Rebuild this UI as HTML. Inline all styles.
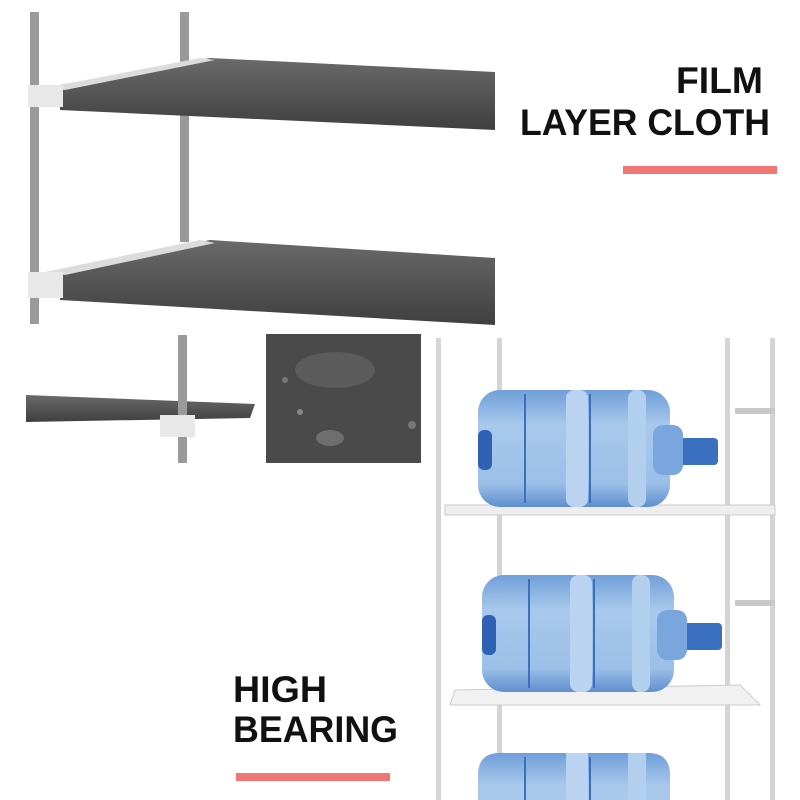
<!DOCTYPE html><html><head><style>html,body{margin:0;background:#fff;width:800px;height:800px;overflow:hidden}svg{display:block}text{font-family:"Liberation Sans",sans-serif;font-weight:bold;fill:#111}</style></head><body>
<svg width="800" height="800" viewBox="0 0 800 800">
<defs>
<linearGradient id="sh" x1="0" y1="0" x2="0" y2="1"><stop offset="0" stop-color="#6a6a6a"/><stop offset="1" stop-color="#3f3f3f"/></linearGradient>
<linearGradient id="bt" x1="0" y1="0" x2="0" y2="1"><stop offset="0" stop-color="#6f9fd8"/><stop offset=".3" stop-color="#a9c8ec"/><stop offset=".8" stop-color="#9bbfe8"/><stop offset="1" stop-color="#5f8fcf"/></linearGradient>
<linearGradient id="bt3" x1="0" y1="0" x2="0" y2="1"><stop offset="0" stop-color="#6f9fd8"/><stop offset=".7" stop-color="#a9c8ec"/><stop offset="1" stop-color="#a9c8ec"/></linearGradient>
<g id="bot">
<rect x="0" y="0" width="192" height="117" rx="22" fill="url(#bt)"/>
<rect x="192" y="48" width="48" height="27" rx="4" fill="#3b6fc0"/>
<rect x="175" y="35" width="30" height="50" rx="10" fill="#7aa6de"/>
<rect x="0" y="40" width="14" height="40" rx="6" fill="#2f62b5"/>
<line x1="47" y1="4" x2="47" y2="113" stroke="#3a70c0" stroke-width="2"/>
<rect x="88" y="0" width="22" height="117" rx="8" fill="#b9d3f0"/>
<line x1="112" y1="4" x2="112" y2="113" stroke="#3a70c0" stroke-width="2"/>
<rect x="150" y="0" width="18" height="117" rx="8" fill="#b3cfee"/>
</g>
</defs>
<rect x="30" y="12" width="9" height="312" fill="#9a9a9a"/>
<rect x="180" y="12" width="9" height="230" fill="#9a9a9a"/>
<polygon points="60,85 210,58 495,72 495,130 60,110" fill="url(#sh)"/>
<polygon points="45,88 200,58 215,60 65,90" fill="#dcdcdc"/>
<rect x="28" y="85" width="35" height="22" fill="#e8e8e8"/>
<polygon points="60,270 210,240 495,258 495,325 60,300" fill="url(#sh)"/>
<polygon points="45,272 200,240 215,243 65,275" fill="#dcdcdc"/>
<rect x="28" y="272" width="35" height="26" fill="#e8e8e8"/>
<polygon points="26,395 255,404 250,418 26,422" fill="url(#sh)"/>
<rect x="178" y="335" width="9" height="128" fill="#9a9a9a"/>
<rect x="160" y="415" width="35" height="22" fill="#e8e8e8"/>
<rect x="266" y="334" width="155" height="129" fill="#4a4a4a"/>
<ellipse cx="335" cy="370" rx="40" ry="18" fill="#5c5c5c"/>
<ellipse cx="330" cy="438" rx="14" ry="8" fill="#6e6e6e"/>
<circle cx="300" cy="412" r="3" fill="#888"/><circle cx="412" cy="425" r="4" fill="#777"/><circle cx="285" cy="380" r="3" fill="#777"/>
<g fill="#d4d4d4">
<rect x="436" y="338" width="5" height="462"/><rect x="497" y="338" width="5" height="462"/>
<rect x="725" y="338" width="5" height="462"/><rect x="770" y="338" width="5" height="462"/>
</g>
<rect x="445" y="505" width="330" height="10" fill="#eee" stroke="#ccc"/>
<polygon points="455,690 740,685 760,705 450,705" fill="#f1f1f1" stroke="#ccc"/>
<rect x="735" y="408" width="40" height="6" fill="#c8c8c8"/>
<rect x="735" y="600" width="40" height="6" fill="#c8c8c8"/>
<use href="#bot" x="478" y="390"/>
<use href="#bot" x="482" y="575"/>
<path d="M478,800 V775 Q478,753 500,753 H648 Q670,753 670,775 V800 Z" fill="url(#bt3)"/>
<rect x="566" y="753" width="22" height="47" fill="#b9d3f0"/>
<rect x="628" y="753" width="18" height="47" fill="#b3cfee"/>
<line x1="525" y1="757" x2="525" y2="800" stroke="#3a70c0" stroke-width="2"/>
<line x1="590" y1="757" x2="590" y2="800" stroke="#3a70c0" stroke-width="2"/>
<text x="676" y="93" font-size="37" textLength="87" lengthAdjust="spacingAndGlyphs">FILM</text>
<text x="520" y="135" font-size="37" textLength="250" lengthAdjust="spacingAndGlyphs">LAYER CLOTH</text>
<rect x="623" y="166" width="154" height="8" fill="#f07575"/>
<text x="233" y="702" font-size="37" textLength="94" lengthAdjust="spacingAndGlyphs">HIGH</text>
<text x="233" y="742" font-size="37" textLength="165" lengthAdjust="spacingAndGlyphs">BEARING</text>
<rect x="236" y="773" width="154" height="8" fill="#f07575"/>
</svg>
</body></html>
